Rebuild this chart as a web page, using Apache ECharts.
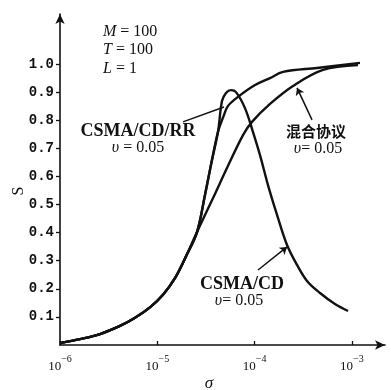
<!DOCTYPE html>
<html><head><meta charset="utf-8">
<script src="https://cdn.jsdelivr.net/npm/echarts@6/dist/echarts.min.js"></script>
<style>html,body{margin:0;padding:0;background:#fff}#c{width:391px;height:390px}</style>
</head><body><div id="c"></div>
<script>
// sigma values (x) and throughput S (y) for each curve
const sigmaRR = [1.0e-6,1.605e-6,2.577e-6,4.136e-6,5.85e-6,8.46e-6,1.15e-5,1.53e-5,1.98e-5,2.56e-5,3.09e-5,3.56e-5,4.20e-5,4.85e-5,5.33e-5,6.75e-5,1.01e-4,1.44e-4,1.96e-4,4.38e-4,1.21e-3];
const sRR     = [0.007,0.021,0.039,0.068,0.096,0.135,0.180,0.240,0.317,0.402,0.534,0.641,0.758,0.819,0.851,0.883,0.925,0.950,0.972,0.986,1.004];
const sigmaCD = [1.0e-6,1.605e-6,2.577e-6,4.136e-6,5.85e-6,8.46e-6,1.15e-5,1.53e-5,1.98e-5,2.56e-5,3.09e-5,3.56e-5,4.20e-5,4.62e-5,5.08e-5,5.72e-5,6.44e-5,7.96e-5,9.63e-5,1.136e-4,1.373e-4,1.70e-4,2.153e-4,2.73e-4,3.456e-4,4.70e-4,6.70e-4,9.12e-4];
const sCD     = [0.007,0.021,0.039,0.068,0.096,0.135,0.180,0.240,0.317,0.402,0.534,0.641,0.758,0.868,0.897,0.907,0.900,0.843,0.758,0.676,0.569,0.463,0.356,0.285,0.228,0.185,0.146,0.121];
const sigmaMix = [1.0e-6,1.605e-6,2.577e-6,4.136e-6,5.85e-6,8.46e-6,1.15e-5,1.53e-5,1.98e-5,2.56e-5,3.09e-5,3.74e-5,5.20e-5,7.60e-5,9.40e-5,1.44e-4,2.48e-4,5.05e-4,1.155e-3];
const sMix     = [0.007,0.021,0.039,0.068,0.096,0.135,0.180,0.240,0.317,0.402,0.463,0.523,0.630,0.747,0.794,0.858,0.922,0.979,0.996];
const xTickExp = [-6,-5,-4,-3];
const yTicks = [0.1,0.2,0.3,0.4,0.5,0.6,0.7,0.8,0.9,1.0];

const toPts = (xs, ys) => xs.map((x,i)=>[Math.log10(x), ys[i]]);
const serif = '"Liberation Serif","DejaVu Serif",serif';
const lineStyle = {color:'#111', width:2.4};
const it = (sz) => ({i:{fontStyle:'italic', fontFamily:serif, fontSize:sz, fill:'#111'}});

const chart = echarts.init(document.getElementById('c'));
chart.setOption({
  backgroundColor:'#fff',
  animation:false,
  grid:{left:60, right:6, top:14, bottom:45},
  xAxis:{
    type:'value', min:-6, max:-2.66,
    axisLine:{lineStyle:{color:'#111', width:1.6}, symbol:['none','arrow'], symbolSize:[7,10]},
    axisTick:{customValues:xTickExp, inside:true, length:4, lineStyle:{color:'#111', width:1.3}},
    axisLabel:{customValues:xTickExp, margin:9, color:'#111',
      formatter: v => '{b|10}{s|−' + Math.abs(Math.round(v)) + '}',
      rich:{
        b:{fontSize:13, fontFamily:serif, color:'#111', lineHeight:19, verticalAlign:'bottom'},
        s:{fontSize:10, fontFamily:serif, color:'#111', lineHeight:11, verticalAlign:'top'}
      }},
    splitLine:{show:false}
  },
  yAxis:{
    type:'value', min:0, max:1.178,
    axisLine:{show:true, lineStyle:{color:'#111', width:1.6}, symbol:['none','arrow'], symbolSize:[7,10]},
    axisTick:{show:true, customValues:yTicks, length:4, lineStyle:{color:'#111', width:1.3}},
    axisLabel:{customValues:yTicks, margin:6, color:'#111', fontFamily:'"Liberation Mono","DejaVu Sans Mono",monospace', fontSize:14, fontWeight:'bold',
      formatter: v => v.toFixed(1)},
    splitLine:{show:false}
  },
  series:[
    {type:'line', data:toPts(sigmaRR,sRR), smooth:0.35, symbol:'none', lineStyle, silent:true,
     markLine:{silent:true, symbol:['none','arrow'], symbolSize:7, label:{show:false},
       lineStyle:{color:'#111', width:1.5, type:'solid'},
       data:[
         [{coord:[-4.736,0.794], symbol:'none'},{coord:[-4.3145,0.847], symbol:'none'}],
         [{coord:[-3.410,0.801]},{coord:[-3.564,0.915]}],
         [{coord:[-3.965,0.267]},{coord:[-3.667,0.349]}]
       ]}},
    {type:'line', data:toPts(sigmaCD,sCD), smooth:0.35, symbol:'none', lineStyle, silent:true},
    {type:'line', data:toPts(sigmaMix,sMix), smooth:0.35, symbol:'none', lineStyle, silent:true}
  ],
  graphic:[
    {type:'text', x:103, y:32, style:{text:'{i|M} = 100', font:'16px '+serif, fill:'#111', verticalAlign:'middle', rich:it(16)}},
    {type:'text', x:103, y:50, style:{text:'{i|T} = 100', font:'16px '+serif, fill:'#111', verticalAlign:'middle', rich:it(16)}},
    {type:'text', x:103, y:69, style:{text:'{i|L} = 1', font:'16px '+serif, fill:'#111', verticalAlign:'middle', rich:it(16)}},
    {type:'text', x:138, y:131, style:{text:'CSMA/CD/RR', font:'bold 18px '+serif, fill:'#111', align:'center', verticalAlign:'middle'}},
    {type:'text', x:138, y:148, style:{text:'{i|υ} = 0.05', font:'16px '+serif, fill:'#111', align:'center', verticalAlign:'middle', rich:it(16)}},
    {type:'text', x:316, y:131, style:{text:'混合协议', font:'bold 15px "Noto Sans CJK SC"', fill:'#111', align:'center', verticalAlign:'middle'}},
    {type:'text', x:318, y:149, style:{text:'{i|υ}= 0.05', font:'16px '+serif, fill:'#111', align:'center', verticalAlign:'middle', rich:it(16)}},
    {type:'text', x:242, y:284, style:{text:'CSMA/CD', font:'bold 18px '+serif, fill:'#111', align:'center', verticalAlign:'middle'}},
    {type:'text', x:239, y:301, style:{text:'{i|υ}= 0.05', font:'16px '+serif, fill:'#111', align:'center', verticalAlign:'middle', rich:it(16)}},
    {type:'text', x:19, y:191, rotation:Math.PI/2, style:{text:'S', font:'16px '+serif, fill:'#111', align:'center', verticalAlign:'middle'}},
    {type:'text', x:209, y:384, style:{text:'σ', font:'italic 17px '+serif, fill:'#111', align:'center', verticalAlign:'middle'}}
  ]
});
</script></body></html>
